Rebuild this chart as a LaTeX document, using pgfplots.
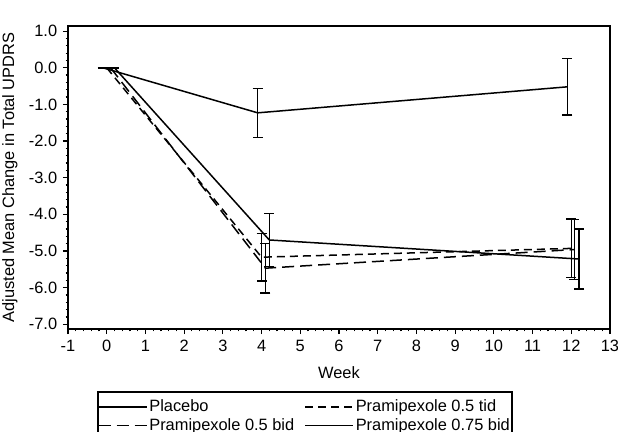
\documentclass[border=0pt]{standalone}
\usepackage{fontspec}
\setmainfont{Liberation Sans}
\usepackage{pgfplots}
\pgfplotsset{compat=1.18}

\begin{document}
\fontsize{8.2}{9.8}\selectfont
\begin{tikzpicture}

\begin{axis}[
scale only axis,
width=271pt, height=151.5pt,
xmin=-1, xmax=13,
ymin=-7.13, ymax=1.14,
xtick={-1,0,1,2,3,4,5,6,7,8,9,10,11,12,13},
xticklabels={-1,0,1,2,3,4,5,6,7,8,9,10,11,12,13},
ytick={-7,-6,-5,-4,-3,-2,-1,0,1},
yticklabels={-7.0,-6.0,-5.0,-4.0,-3.0,-2.0,-1.0,0.0,1.0},
minor x tick num=4, minor y tick num=4,
tick pos=left, tick align=outside,
major tick length=2.5pt, minor tick length=1.2pt,
every tick/.style={black, line width=0.6pt},
axis line style={line width=0.9pt},
tick label style={font=\fontsize{8.2}{9.8}\selectfont},
label style={font=\fontsize{8.2}{9.8}\selectfont},
xlabel={Week},
xlabel style={yshift=-2pt},
ylabel={Adjusted Mean Change in Total UPDRS},
legend columns=2,
legend cell align=left,
legend style={at={(0.437,-0.205)}, anchor=north, draw=black, line width=0.9pt,
  font=\fontsize{8.2}{9.8}\selectfont, inner xsep=0pt, inner ysep=3pt,
  nodes={inner sep=1pt}, /tikz/every even column/.append style={column sep=4pt}},
legend image code/.code={\draw[#1, line width=0.75pt] (0pt,0pt) -- (24pt,0pt);},
error bars/error bar style={solid, line width=0.75pt},
error bars/error mark options={solid, line width=0.75pt, mark size=2.5pt, rotate=90},
]

% Placebo
\addplot [black, solid, line width=0.75pt, no markers]
plot[error bars/.cd, y dir=both, y explicit]
coordinates{
 (-0.1,0) +- (0,0)
 (3.9,-1.23) +- (0,0.67)
 (11.9,-0.52) +- (0,0.77)
};

% Pramipexole 0.5 tid
\addplot [black, dash pattern=on 4pt off 2.5pt, line width=0.75pt, no markers]
plot[error bars/.cd, y dir=both, y explicit]
coordinates{
 (0.0,0) +- (0,0)
 (4.0,-5.17) +- (0,0.65)
 (12.0,-4.93) +- (0,0.80)
};

% Pramipexole 0.5 bid
\addplot [black, dash pattern=on 6pt off 3pt, line width=0.75pt, no markers]
plot[error bars/.cd, y dir=both, y explicit]
coordinates{
 (0.1,0) +- (0,0)
 (4.1,-5.47) +- (0,0.68)
 (12.08,-4.96) +- (0,0.82)
};

% Pramipexole 0.75 bid
\addplot [black, solid, line width=0.75pt, no markers]
plot[error bars/.cd, y dir=both, y explicit]
coordinates{
 (0.2,0) +- (0,0)
 (4.2,-4.70) +- (0,0.72)
 (12.2,-5.22) +- (0,0.82)
};

\legend{Placebo, Pramipexole 0.5 tid, Pramipexole 0.5 bid, Pramipexole 0.75 bid}

\end{axis}

\pgfresetboundingbox
\path[use as bounding box] ([xshift=-34pt,yshift=-51pt]current axis.south west)
  rectangle ([xshift=4pt,yshift=13pt]current axis.north east);

\end{tikzpicture}
\end{document}
